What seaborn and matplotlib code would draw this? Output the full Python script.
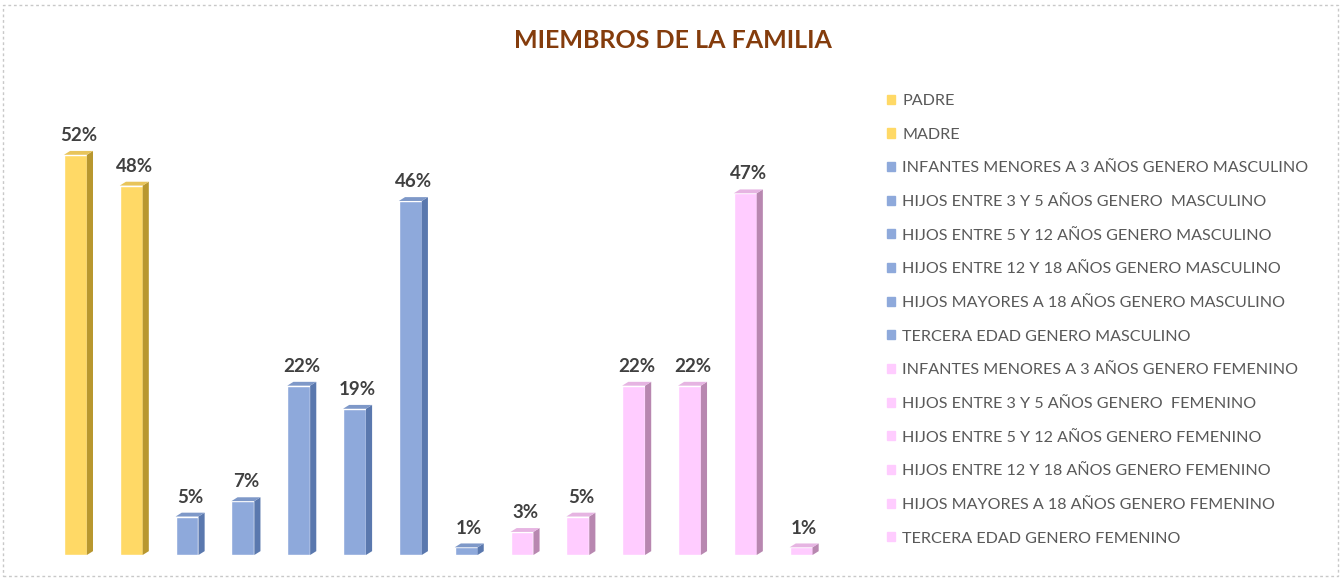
import numpy as np
import pandas as pd
import matplotlib
matplotlib.use("Agg")
import matplotlib.pyplot as plt
from matplotlib.patches import Rectangle
import seaborn as sns

# data
miembros = [
    "PADRE",
    "MADRE",
    "INFANTES MENORES A 3 AÑOS GENERO MASCULINO",
    "HIJOS ENTRE 3 Y 5 AÑOS GENERO  MASCULINO",
    "HIJOS ENTRE 5 Y 12 AÑOS GENERO MASCULINO",
    "HIJOS ENTRE 12 Y 18 AÑOS GENERO MASCULINO",
    "HIJOS MAYORES A 18 AÑOS GENERO MASCULINO",
    "TERCERA EDAD GENERO MASCULINO",
    "INFANTES MENORES A 3 AÑOS GENERO FEMENINO",
    "HIJOS ENTRE 3 Y 5 AÑOS GENERO  FEMENINO",
    "HIJOS ENTRE 5 Y 12 AÑOS GENERO FEMENINO",
    "HIJOS ENTRE 12 Y 18 AÑOS GENERO FEMENINO",
    "HIJOS MAYORES A 18 AÑOS GENERO FEMENINO",
    "TERCERA EDAD GENERO FEMENINO",
]
porcentajes = [52, 48, 5, 7, 22, 19, 46, 1, 3, 5, 22, 22, 47, 1]
grupos = ["padres"] * 2 + ["masc"] * 6 + ["fem"] * 6

frente = {"padres": "#FFD966", "masc": "#8EA9DB", "fem": "#FFCCFF"}
lateral = {"padres": "#B8972F", "masc": "#5A78AE", "fem": "#B887B0"}
tapa = {"padres": "#E8C45A", "masc": "#7E98C8", "fem": "#E6B4E2"}

df = pd.DataFrame({"miembro": miembros, "pct": porcentajes, "grupo": grupos})

sns.set_style("white")
plt.rcParams["font.family"] = ["Lato", "DejaVu Sans"]

fig = plt.figure(figsize=(13.44, 5.79), dpi=100)
ax = fig.add_axes([47.5 / 1344, 24 / 579, (829 - 47.5) / 1344, 431 / 579])

paleta = {m: frente[g] for m, g in zip(miembros, grupos)}
sns.barplot(data=df, x="miembro", y="pct", hue="miembro", palette=paleta,
            width=0.41, legend=False, ax=ax, saturation=1)

# fake 3D: side and top faces from each bar
dx, dy = 0.11, 0.5
for bar, g, v in zip(ax.patches, grupos, porcentajes):
    x0 = bar.get_x()
    w = bar.get_width()
    h = bar.get_height()
    x1 = x0 + w
    ax.fill([x1, x1 + dx, x1 + dx, x1], [0, dy, h + dy, h],
            color=lateral[g], lw=0, zorder=3)
    ax.fill([x0, x0 + dx, x1 + dx, x1], [h, h + dy, h + dy, h],
            color=tapa[g], lw=0, zorder=3)
    ax.text(x0 + (w + dx) / 2, h + dy + 0.9, f"{v}%", ha="center", va="bottom",
            fontsize=13.5, fontweight="bold", color="#404040")

ax.set_ylim(0, 56)
ax.set_xlim(-0.5, len(miembros) - 0.5)
ax.set_xlabel("")
ax.set_ylabel("")
ax.set_xticks([])
ax.set_yticks([])
sns.despine(ax=ax, left=True, bottom=True)

fig.text(673 / 1344, 1 - 40 / 579, "MIEMBROS DE LA FAMILIA", ha="center", va="center",
         fontsize=18, fontweight="bold", color="#843C0C")

handles = [Rectangle((0, 0), 1, 1, color=frente[g]) for g in grupos]
fig.legend(handles, miembros, loc="upper left",
           bbox_to_anchor=(887 / 1344, 1 - 94 / 579), frameon=False,
           borderaxespad=0, borderpad=0, fontsize=11.6, labelcolor="#595959",
           handlelength=0.5, handleheight=0.5, handletextpad=0.45,
           labelspacing=1.22)

fig.add_artist(Rectangle((3 / 1344, 3 / 579), 1335 / 1344, 571 / 579,
                         transform=fig.transFigure, fill=False,
                         edgecolor="#C8C8C8", lw=1, ls=(0, (2, 2))))

fig.savefig("out.png", dpi=100)
